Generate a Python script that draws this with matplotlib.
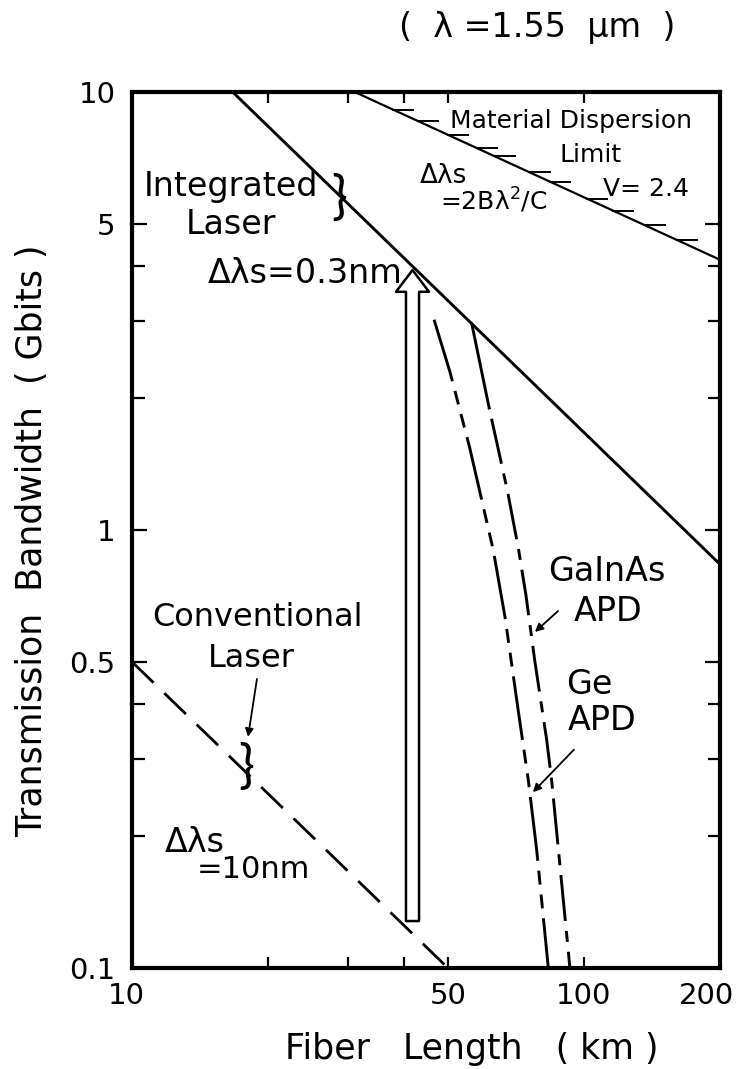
import numpy as np
import matplotlib as mpl
mpl.use('Agg')
import matplotlib.pyplot as plt
from matplotlib.ticker import FixedLocator, NullFormatter, FixedFormatter
from matplotlib.transforms import ScaledTranslation

# fiber length [km] vs transmission bandwidth [Gbit/s] at 1.55 um
mat_L   = [31.1, 200.]          # material dispersion limit, V=2.4
mat_B   = [10.0, 4.14]
hatch_L = [37.8, 42.9, 50.0, 58.0, 63.6, 75.9, 84.1, 101.5, 115.9, 136.5, 160.6]

int_L  = [16.7, 200.]           # integrated laser, dls = 0.3 nm
int_B  = [10.0, 0.835]

conv_L = [10., 50.]             # conventional laser, dls = 10 nm
conv_B = [0.5, 0.1]

ge_L = [46.6, 50.5, 55.8, 63.0, 66.9, 71.6, 75.3, 78.6, 83.4]
ge_B = [3.02, 2.30, 1.55, 0.90, 0.632, 0.385, 0.269, 0.186, 0.10]

gainas_L = [56.5, 61.7, 67.7, 71.6, 74.4, 77.9, 82.7, 84.8, 93.1]
gainas_B = [2.95, 1.90, 1.23, 0.908, 0.711, 0.50, 0.332, 0.269, 0.10]

arrow_L = 41.75
arrow_B = [0.128, 3.92]

xt_major = [10, 50, 100, 200]
xt_minor = [20, 30, 40]
yt_major = [0.1, 0.5, 1, 5, 10]
yt_minor = [0.2, 0.3, 0.4, 2, 3, 4]
yt_labels = ['0.1', '0.5', '1', '5', '10']

plt.rcParams['font.family'] = ['DejaVu Sans']

fig = plt.figure(figsize=(7.4, 10.69), dpi=100)
ax = fig.add_axes([132/740, 1-968/1069, 588/740, 876/1069])
ax.set_xscale('log')
ax.set_yscale('log')
ax.set_xlim(10, 200)
ax.set_ylim(0.1, 10)

for s in ax.spines.values():
    s.set_linewidth(3.0)

ax.xaxis.set_major_locator(FixedLocator(xt_major))
ax.xaxis.set_major_formatter(FixedFormatter([str(v) for v in xt_major]))
ax.xaxis.set_minor_locator(FixedLocator(xt_minor))
ax.xaxis.set_minor_formatter(NullFormatter())
ax.yaxis.set_major_locator(FixedLocator(yt_major))
ax.yaxis.set_major_formatter(FixedFormatter(yt_labels))
ax.yaxis.set_minor_locator(FixedLocator(yt_minor))
ax.yaxis.set_minor_formatter(NullFormatter())
ax.tick_params(which='both', direction='in', top=True, right=True, width=1.6, labelsize=21)
ax.tick_params(axis='y', which='major', length=11, pad=12)
ax.tick_params(axis='y', which='minor', length=9)
ax.tick_params(axis='x', which='both', length=8, pad=10)

# pull the outer x labels in a little
fig.canvas.draw()
xlabs = ax.get_xticklabels()
xlabs[-1].set_transform(xlabs[-1].get_transform() + ScaledTranslation(-10/72, 0, fig.dpi_scale_trans))
xlabs[0].set_transform(xlabs[0].get_transform() + ScaledTranslation(-4/72, 0, fig.dpi_scale_trans))

# dispersion limit with hatching
ax.plot(mat_L, mat_B, color='k', lw=1.6)
hb = 10**np.interp(np.log10(hatch_L), np.log10(mat_L), np.log10(mat_B))
for L, b in zip(hatch_L, hb):
    ax.plot([L, L*1.107], [b, b], color='k', lw=1.4)

ax.plot(int_L, int_B, color='k', lw=2.1)
ax.plot(conv_L, conv_B, color='k', lw=2.0, ls=(0, (10.8, 5.4)))

ax.plot(ge_L, ge_B, color='k', lw=2.1, ls=(0, (22, 3.4, 4.8, 3.4, 4.8, 3.4)))
ax.plot(gainas_L[:2], gainas_B[:2], color='k', lw=2.1)
ax.plot(gainas_L[1:], gainas_B[1:], color='k', lw=2.1, ls=(3.4, (3.8, 3.4, 15.8, 3.4)))

# hollow arrow from conventional to integrated laser
ax.annotate('', xy=(arrow_L, arrow_B[1]), xytext=(arrow_L, arrow_B[0]),
            arrowprops=dict(arrowstyle='simple,head_length=15.6,head_width=23.8,tail_width=9.4',
                            mutation_scale=1, fc='white', ec='k', lw=1.8,
                            shrinkA=0, shrinkB=0))

small_arrow = dict(arrowstyle='-|>', color='k', lw=1.3, mutation_scale=12, shrinkA=0, shrinkB=0)
brace = dict(fontsize=38, ha='center', va='center', family=['Lato', 'DejaVu Sans'])

ax.text(16.6, 6.1, 'Integrated', fontsize=24, ha='center', va='center')
ax.text(16.6, 4.97, 'Laser', fontsize=24, ha='center', va='center')
ax.text(28.8, 5.73, '}', **brace)
ax.text(14.7, 3.86, 'Δλs=0.3nm', fontsize=24, ha='left', va='center')

ax.text(50.5, 8.59, 'Material Dispersion', fontsize=18, ha='left', va='center')
ax.text(103.6, 7.18, 'Limit', fontsize=18, ha='center', va='center')
ax.text(110, 6.0, 'V= 2.4', fontsize=18, ha='left', va='center')
ax.text(43.4, 6.43, 'Δλs', fontsize=19, ha='left', va='center')
ax.text(48.0, 5.64, '=2Bλ$^2$/C', fontsize=18, ha='left', va='center')

ax.text(19.0, 0.63, 'Conventional', fontsize=23, ha='center', va='center')
ax.text(18.4, 0.51, 'Laser', fontsize=23, ha='center', va='center')
ax.text(17.9, 0.2876, '}', **brace)
ax.annotate('', xy=(18.06, 0.337), xytext=(18.9, 0.457), arrowprops=small_arrow)
ax.text(11.8, 0.193, 'Δλs', fontsize=24, ha='left', va='center')
ax.text(13.9, 0.168, '=10nm', fontsize=22, ha='left', va='center')

ax.text(112.5, 0.802, 'GaInAs', fontsize=24, ha='center', va='center')
ax.text(113, 0.653, 'APD', fontsize=24, ha='center', va='center')
ax.annotate('', xy=(77.9, 0.585), xytext=(87.6, 0.653), arrowprops=small_arrow)
ax.text(103, 0.445, 'Ge', fontsize=24, ha='center', va='center')
ax.text(109.6, 0.368, 'APD', fontsize=24, ha='center', va='center')
ax.annotate('', xy=(77.1, 0.252), xytext=(95.0, 0.315), arrowprops=small_arrow)

fig.text(537/740, 1-27/1069, '(  λ =1.55  μm  )', fontsize=24, ha='center', va='center')
fig.text(32/740, 1-541/1069, 'Transmission  Bandwidth  ( Gbits )', fontsize=25,
         rotation=90, ha='center', va='center')
fig.text(472/740, 1-1049/1069, 'Fiber   Length   ( km )', fontsize=25, ha='center', va='center')

fig.savefig('out.png', dpi=100, facecolor='w')
